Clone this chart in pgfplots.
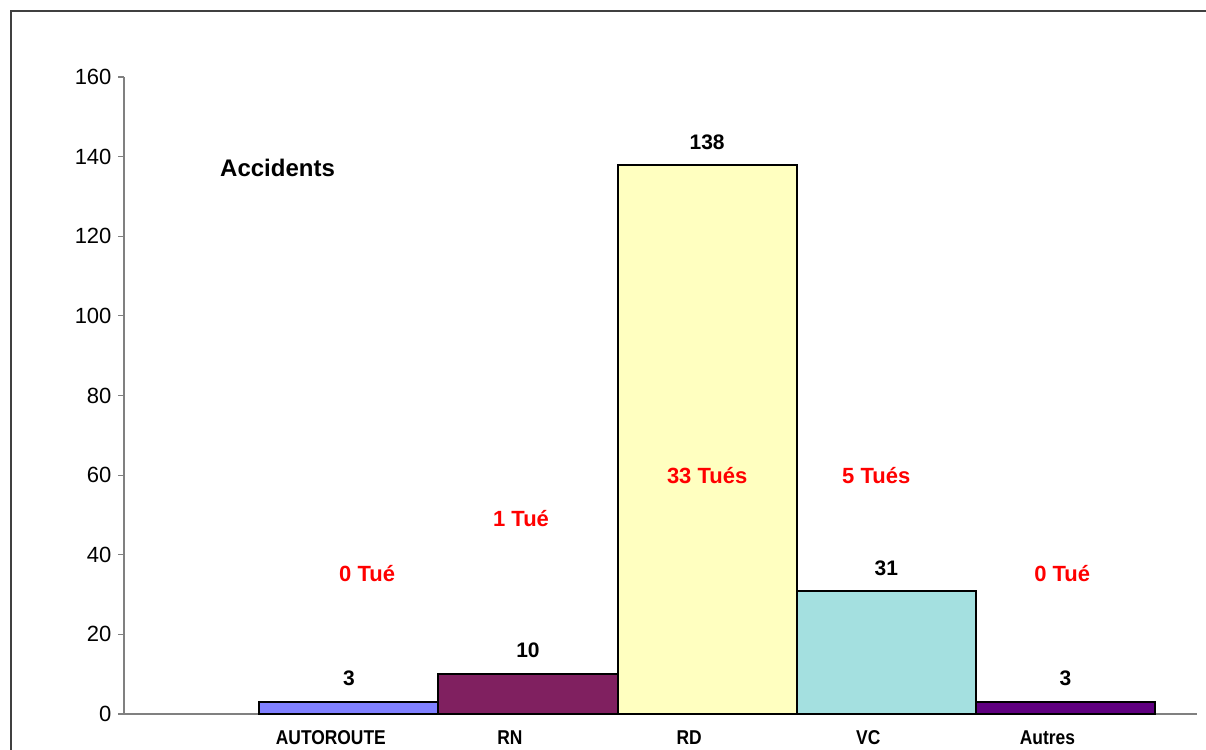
\documentclass[border=0pt]{standalone}
\usepackage{pgfplots}
\pgfplotsset{compat=1.18}
\usepackage{graphicx}
\usepackage{fontspec}
\setmainfont{Liberation Sans}
\definecolor{cAuto}{HTML}{8080FF}
\definecolor{cRN}{HTML}{802060}
\definecolor{cRD}{HTML}{FFFFC0}
\definecolor{cVC}{HTML}{A4E0E0}
\definecolor{cAutres}{HTML}{600080}
\definecolor{axgray}{HTML}{808080}
\newcommand{\cn}[1]{\scalebox{0.87}[1]{#1}}
\begin{document}
\begin{tikzpicture}[x=1pt,y=1pt]
\useasboundingbox (0,0) rectangle (1206,749);
\draw[line width=2pt, color=black!75] (11,-20) -- (11,738) -- (1230,738);
\begin{axis}[
  at={(124pt,35pt)}, anchor=south west,
  scale only axis, width=1073pt, height=637pt,
  xmin=-1.255, xmax=4.734, ymin=0, ymax=160,
  axis x line=bottom, axis y line=left,
  axis line style={color=axgray, line width=1.2pt, -},
  ytick={0,20,...,160},
  xtick={0,1,2,3,4},
  xticklabels={\cn{AUTOROUTE},\cn{RN},\cn{RD},\cn{VC},\cn{Autres}},
  xticklabel style={font=\fontsize{20}{20}\selectfont\bfseries, yshift=-7pt, xshift=-18pt},
  yticklabel style={font=\fontsize{22}{22}\selectfont, xshift=-3pt},
  /pgf/number format/assume math mode=true,
  x tick style={draw=none},
  y tick style={color=axgray, line width=1.2pt},
  tick align=outside,
  major tick length=6pt,
  clip=false,
]
\addplot[ybar, bar width=179.1pt, fill=cAuto, draw=black, line width=2pt] coordinates {(0,3)};
\addplot[ybar, bar width=179.1pt, fill=cRN, draw=black, line width=2pt] coordinates {(1,10)};
\addplot[ybar, bar width=179.1pt, fill=cRD, draw=black, line width=2pt] coordinates {(2,138)};
\addplot[ybar, bar width=179.1pt, fill=cVC, draw=black, line width=2pt] coordinates {(3,31)};
\addplot[ybar, bar width=179.1pt, fill=cAutres, draw=black, line width=2pt] coordinates {(4,3)};
% value labels
\addplot[only marks, mark=none, nodes near coords, point meta=explicit symbolic,
  every node near coord/.style={anchor=center, font=\fontsize{21}{21}\selectfont\bfseries, text=black}]
  table[meta=lab] {
x y lab
0 9.0 3
1 16.1 10
2 143.7 138
3 36.7 31
4 9.0 3
};
% killed labels
\addplot[only marks, mark=none, nodes near coords, point meta=explicit symbolic,
  every node near coord/.style={anchor=center, font=\fontsize{22}{22}\selectfont\bfseries, text=red}]
  table[meta=lab, col sep=comma] {
x,y,lab
0.102,35.4,0 Tué
0.961,49.0,1 Tué
2.0,59.8,33 Tués
2.944,59.8,5 Tués
3.982,35.4,0 Tué
};
\addplot[only marks, mark=none, nodes near coords, point meta=explicit symbolic,
  every node near coord/.style={anchor=center, font=\fontsize{24}{24}\selectfont\bfseries, text=black}]
  table[meta=lab, col sep=comma] {
x,y,lab
-0.398,137.2,Accidents
};
\end{axis}
\end{tikzpicture}
\end{document}
